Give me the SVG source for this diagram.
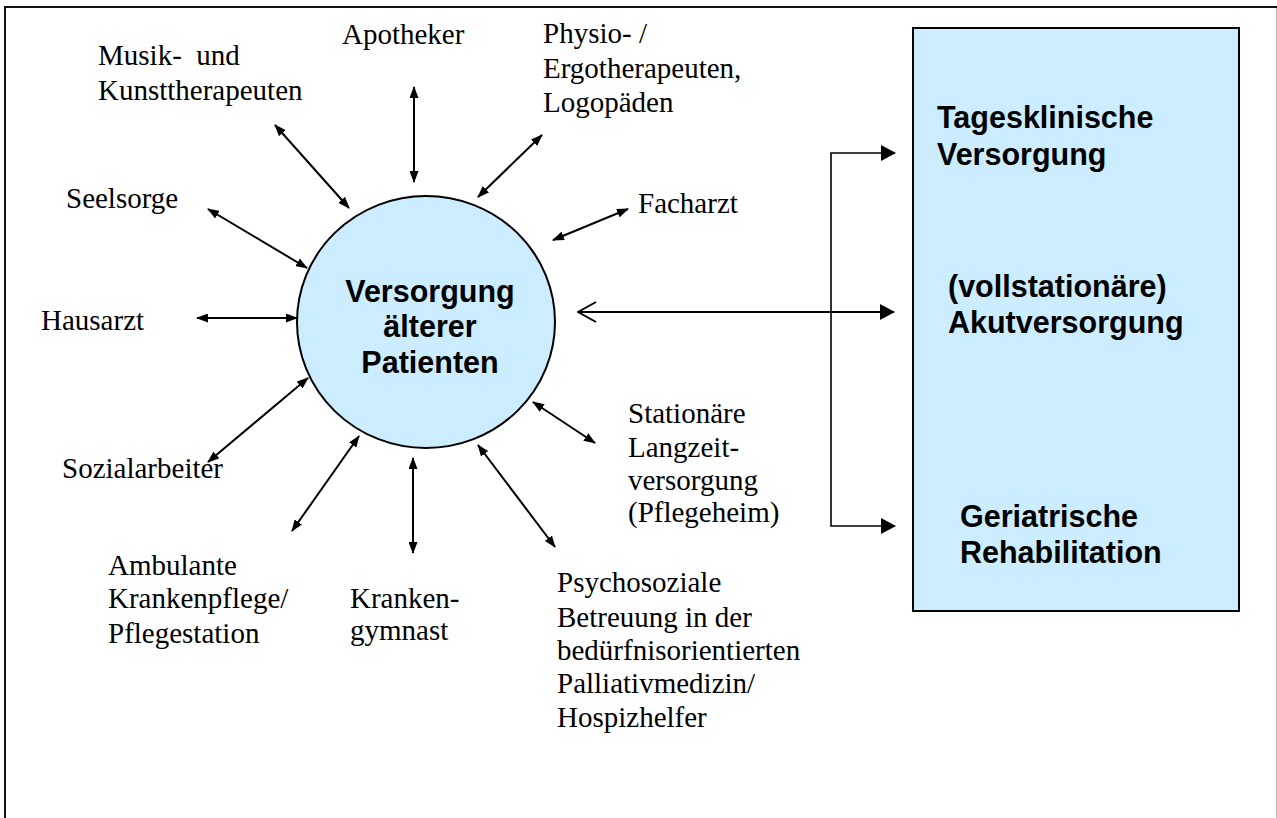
<svg xmlns="http://www.w3.org/2000/svg" width="1277" height="818" viewBox="0 0 1277 818">
  <defs>
    <style>
      .lbl { font-family: "Liberation Serif", "Times New Roman", serif; font-size: 29px; fill: #000; white-space: pre; }
      .bold { font-family: "Liberation Sans", Arial, sans-serif; font-size: 30.5px; font-weight: bold; fill: #000; }
      .spoke { stroke: #000; stroke-width: 2; fill: none; marker-start: url(#head); marker-end: url(#head); }
      .link { stroke: #000; stroke-width: 1.6; fill: none; }
      .fill { fill: #CCECFF; stroke: #000; }
    </style>
    <marker id="head" viewBox="0 0 12 9" refX="11" refY="4.5" markerWidth="12" markerHeight="9" markerUnits="userSpaceOnUse" orient="auto-start-reverse">
      <path d="M0,0 L12,4.5 L0,9 z" fill="#000"/>
    </marker>
    <marker id="tri" viewBox="0 0 15 16" refX="14" refY="8" markerWidth="15" markerHeight="16" markerUnits="userSpaceOnUse" orient="auto-start-reverse">
      <path d="M0,0 L15,8 L0,16 z" fill="#000"/>
    </marker>
    <marker id="open" viewBox="0 0 20 22" refX="1" refY="11" markerWidth="20" markerHeight="22" markerUnits="userSpaceOnUse" orient="auto">
      <path d="M19,1 L1,11 L19,21" fill="none" stroke="#000" stroke-width="2"/>
    </marker>
  </defs>

  <rect x="0" y="0" width="1277" height="818" fill="#fff"/>

  <!-- page frame -->
  <g id="frame">
    <line x1="4" y1="7" x2="1277" y2="7" stroke="#111" stroke-width="2"/>
    <line x1="5" y1="6" x2="5" y2="818" stroke="#111" stroke-width="2"/>
    <line x1="1276.5" y1="8" x2="1276.5" y2="818" stroke="#bbb" stroke-width="1"/>
  </g>

  <!-- central node -->
  <g id="center">
    <ellipse class="fill" cx="426" cy="322" rx="129" ry="126" stroke-width="2"/>
    <text class="bold" text-anchor="middle" x="430" y="302">Versorgung</text>
    <text class="bold" text-anchor="middle" x="430" y="337">älterer</text>
    <text class="bold" text-anchor="middle" x="430" y="373">Patienten</text>
  </g>

  <!-- care settings -->
  <g id="settings">
    <rect class="fill" x="913" y="28" width="326" height="583" stroke-width="2"/>
    <text class="bold" x="937" y="128">Tagesklinische</text>
    <text class="bold" x="937" y="165">Versorgung</text>
    <text class="bold" x="948" y="297">(vollstationäre)</text>
    <text class="bold" x="948" y="333">Akutversorgung</text>
    <text class="bold" x="960" y="527">Geriatrische</text>
    <text class="bold" x="960" y="563">Rehabilitation</text>
  </g>

  <!-- surrounding services -->
  <g id="musik"><text class="lbl" x="98" y="65" xml:space="preserve">Musik-  und</text><text class="lbl" x="98" y="100">Kunsttherapeuten</text></g>
  <g id="apotheker"><text class="lbl" x="342" y="44">Apotheker</text></g>
  <g id="physio">
    <text class="lbl" x="543" y="43">Physio- /</text>
    <text class="lbl" x="543" y="78">Ergotherapeuten,</text>
    <text class="lbl" x="543" y="112">Logopäden</text>
  </g>
  <g id="facharzt"><text class="lbl" x="638" y="213">Facharzt</text></g>
  <g id="seelsorge"><text class="lbl" x="66" y="208">Seelsorge</text></g>
  <g id="hausarzt"><text class="lbl" x="41" y="330">Hausarzt</text></g>
  <g id="sozialarbeiter"><text class="lbl" x="62" y="478">Sozialarbeiter</text></g>
  <g id="stationaer">
    <text class="lbl" x="628" y="423">Stationäre</text>
    <text class="lbl" x="628" y="457">Langzeit-</text>
    <text class="lbl" x="628" y="490">versorgung</text>
    <text class="lbl" x="628" y="522">(Pflegeheim)</text>
  </g>
  <g id="ambulant">
    <text class="lbl" x="108" y="575">Ambulante</text>
    <text class="lbl" x="108" y="608">Krankenpflege/</text>
    <text class="lbl" x="108" y="643">Pflegestation</text>
  </g>
  <g id="krankengymnast">
    <text class="lbl" x="350" y="608">Kranken-</text>
    <text class="lbl" x="350" y="640">gymnast</text>
  </g>
  <g id="psychosozial">
    <text class="lbl" x="557" y="592">Psychosoziale</text>
    <text class="lbl" x="557" y="627">Betreuung in der</text>
    <text class="lbl" x="557" y="660">bedürfnisorientierten</text>
    <text class="lbl" x="557" y="693">Palliativmedizin/</text>
    <text class="lbl" x="557" y="727">Hospizhelfer</text>
  </g>

  <!-- connectors -->
  <g id="connectors">
    <line class="spoke" x1="275" y1="125" x2="349" y2="208"/>
    <line class="spoke" x1="414" y1="87" x2="414" y2="182"/>
    <line class="spoke" x1="542" y1="135" x2="478" y2="197"/>
    <line class="spoke" x1="628" y1="209" x2="553" y2="240"/>
    <line class="spoke" x1="208" y1="209" x2="307" y2="268"/>
    <line class="spoke" x1="197" y1="318" x2="297" y2="318"/>
    <line class="spoke" x1="308" y1="378" x2="208" y2="462"/>
    <line class="spoke" x1="359" y1="436" x2="292" y2="531"/>
    <line class="spoke" x1="413" y1="458" x2="413" y2="553"/>
    <line class="spoke" x1="478" y1="445" x2="555" y2="547"/>
    <line class="spoke" x1="533" y1="402" x2="595" y2="443"/>

    <line x1="578" y1="312" x2="894" y2="312" stroke="#000" stroke-width="2" marker-start="url(#open)" marker-end="url(#tri)"/>
    <polyline class="link" points="895,153 831,153 831,526 895,526" marker-start="url(#tri)" marker-end="url(#tri)"/>
  </g>
</svg>
